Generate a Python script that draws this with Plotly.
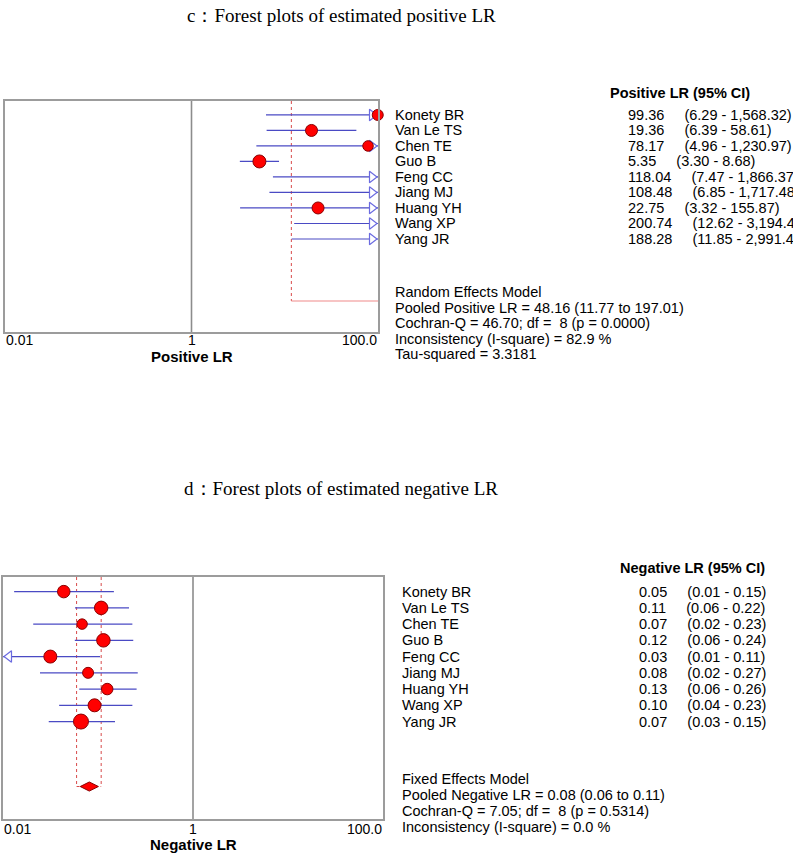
import numpy as np
import plotly.graph_objects as go

# ---------------- data ----------------
studies = ["Konety BR", "Van Le TS", "Chen TE", "Guo B", "Feng CC",
           "Jiang MJ", "Huang YH", "Wang XP", "Yang JR"]

# Positive LR (values as printed)
pos_est = [99.36, 19.36, 78.17, 5.35, 118.04, 108.48, 22.75, 200.74, 188.28]
pos_lo = [6.29, 6.39, 4.96, 3.30, 7.47, 6.85, 3.32, 12.62, 11.85]
pos_hi = [1568.32, 58.61, 1230.97, 8.68, 1866.37, 1717.48, 155.87, 3194.40, 2991.40]
pos_est_txt = ["99.36", "19.36", "78.17", "5.35", "118.04", "108.48", "22.75", "200.74", "188.28"]
pos_ci_txt = ["(6.29 - 1,568.32)", "(6.39 - 58.61)", "(4.96 - 1,230.97)", "(3.30 - 8.68)",
              "(7.47 - 1,866.37)", "(6.85 - 1,717.48)", "(3.32 - 155.87)",
              "(12.62 - 3,194.40)", "(11.85 - 2,991.40)"]
pos_pooled = [48.16, 11.77, 197.01]  # estimate, lower, upper
pos_stats = ["Random Effects Model",
             "Pooled Positive LR = 48.16 (11.77 to 197.01)",
             "Cochran-Q = 46.70; df =  8 (p = 0.0000)",
             "Inconsistency (I-square) = 82.9 %",
             "Tau-squared = 3.3181"]

# Negative LR (positions; printed text below)
neg_est = [0.0436, 0.108, 0.068, 0.114, 0.0315, 0.0786, 0.125, 0.092, 0.0662]
neg_lo = [0.0131, 0.0573, 0.0208, 0.057, 0.008, 0.0245, 0.0635, 0.039, 0.0303]
neg_hi = [0.147, 0.212, 0.23, 0.235, 0.105, 0.262, 0.255, 0.23, 0.151]
neg_est_txt = ["0.05", "0.11", "0.07", "0.12", "0.03", "0.08", "0.13", "0.10", "0.07"]
neg_ci_txt = ["(0.01 - 0.15)", "(0.06 - 0.22)", "(0.02 - 0.23)", "(0.06 - 0.24)",
              "(0.01 - 0.11)", "(0.02 - 0.27)", "(0.06 - 0.26)", "(0.04 - 0.23)",
              "(0.03 - 0.15)"]
neg_pooled = [0.081, 0.0595, 0.108]
neg_stats = ["Fixed Effects Model",
             "Pooled Negative LR = 0.08 (0.06 to 0.11)",
             "Cochran-Q = 7.05; df =  8 (p = 0.5314)",
             "Inconsistency (I-square) = 0.0 %"]

tick_vals = [0.01, 1, 100]
tick_text = ["0.01", "1", "100.0"]

# ---------------- styling / layout helpers ----------------
W, H = 793, 854
SANS = "Liberation Sans, Arial, sans-serif"
SERIF = "Liberation Serif, Times New Roman, serif"
NB = "\u00a0"
XMIN, XMAX = -2, 2           # log10 range
YTOP, YBOT = 0.1, 15.0       # row range (reversed)
rows = list(range(1, len(studies) + 1))
POOL_ROW = 13
FS_NAME = 14.5
FS_VAL = 14.5


def px(x):
    return x / W


def py(y):
    return 1 - y / H


panels = [
    dict(xa="x", ya="y", dom_x=(5, 378), dom_y=(101, 332),
         est=pos_est, lo=pos_lo, hi=pos_hi, est_txt=pos_est_txt, ci_txt=pos_ci_txt,
         pooled=pos_pooled, stats=pos_stats, sizes=[11, 12, 10.5, 13, 0, 0, 12, 0, 0],
         header="Positive LR (95% CI)", axis_title="Positive LR",
         title="c\uff1aForest plots of estimated positive LR", title_y=15,
         name_x=394, val_x=627, head_x=609, head_y=93, stat_y=292, stat_step=15.5,
         tick_shift=1, title_shift=-24, fixed=False),
    dict(xa="x2", ya="y2", dom_x=(3, 383), dom_y=(577, 819),
         est=neg_est, lo=neg_lo, hi=neg_hi, est_txt=neg_est_txt, ci_txt=neg_ci_txt,
         pooled=neg_pooled, stats=neg_stats, sizes=[12.5, 13.5, 10.5, 13.5, 13, 11, 11.5, 13, 15],
         header="Negative LR (95% CI)", axis_title="Negative LR",
         title="d\uff1aForest plots of estimated negative LR", title_y=488,
         name_x=401, val_x=638, head_x=619, head_y=568, stat_y=779, stat_step=16,
         tick_shift=-1, title_shift=-25, fixed=True),
]

fig = go.Figure()
annotations = []
CI_COLOR = "#4a4ac4"
ARROW_COLOR = "#6b6be0"
RED = "#ff0000"
DARKRED = "#8a0000"
POOL_COLOR = "#d84a4a"

for i, p in enumerate(panels):
    xa, ya = p["xa"], p["ya"]
    dwidth = p["dom_x"][1] - p["dom_x"][0]
    px_per_dec = dwidth / (XMAX - XMIN)
    xmin_v, xmax_v = 10 ** XMIN, 10 ** XMAX
    top_px, bot_px = p["dom_y"]

    def row_px(r):
        return top_px + (r - YTOP) / (YBOT - YTOP) * (bot_px - top_px)

    # reference line at 1
    fig.add_trace(go.Scatter(x=[1, 1], y=[YTOP, YBOT], mode="lines",
                             line=dict(color="#8c8c8c", width=1.6),
                             xaxis=xa, yaxis=ya, hoverinfo="skip", showlegend=False))

    # pooled estimate lines
    pe, pl, ph = p["pooled"]
    for v in (pl, ph):
        fig.add_trace(go.Scatter(x=[v, v], y=[YTOP, POOL_ROW], mode="lines",
                                 line=dict(color=POOL_COLOR, width=1, dash="dot"),
                                 xaxis=xa, yaxis=ya, hoverinfo="skip", showlegend=False))
    fig.add_trace(go.Scatter(x=[pl, ph], y=[POOL_ROW, POOL_ROW], mode="lines",
                             line=dict(color=POOL_COLOR if p["fixed"] else "#f08a8a",
                                       width=1.2, dash="dot" if p["fixed"] else "solid"),
                             xaxis=xa, yaxis=ya, hoverinfo="skip", showlegend=False))

    # confidence intervals
    for r, lo, hi in zip(rows, p["lo"], p["hi"]):
        fig.add_trace(go.Scatter(x=[lo, hi], y=[r, r], mode="lines",
                                 line=dict(color=CI_COLOR, width=1.2),
                                 xaxis=xa, yaxis=ya, hoverinfo="skip", showlegend=False))

    # arrows for intervals running off the axis
    tip = 6.0 / px_per_dec
    ar_x, ar_y, ar_sym = [], [], []
    for r, lo, hi in zip(rows, p["lo"], p["hi"]):
        if hi > xmax_v:
            ar_x.append(10 ** (XMAX - tip)); ar_y.append(r); ar_sym.append("triangle-right")
        if lo < xmin_v:
            ar_x.append(10 ** (XMIN + tip)); ar_y.append(r); ar_sym.append("triangle-left")
    if ar_x:
        fig.add_trace(go.Scatter(x=ar_x, y=ar_y, mode="markers",
                                 marker=dict(symbol=ar_sym, size=10, color="white", opacity=1,
                                             line=dict(color=ARROW_COLOR, width=1.2)),
                                 xaxis=xa, yaxis=ya, hoverinfo="skip", showlegend=False))

    # point estimates (only those inside the axis range)
    dx, dy, ds = [], [], []
    for r, e, s in zip(rows, p["est"], p["sizes"]):
        if xmin_v <= e <= xmax_v:
            dx.append(e); dy.append(r); ds.append(s)
    fig.add_trace(go.Scatter(x=dx, y=dy, mode="markers", cliponaxis=False,
                             marker=dict(symbol="circle", size=ds, color=RED, opacity=1,
                                         line=dict(color=DARKRED, width=1)),
                             xaxis=xa, yaxis=ya, hoverinfo="skip", showlegend=False))

    if p["fixed"]:
        fig.add_trace(go.Scatter(x=[pe], y=[POOL_ROW], mode="markers",
                                 marker=dict(symbol="diamond-wide", size=13, color=RED, opacity=1,
                                             line=dict(color=DARKRED, width=1)),
                                 xaxis=xa, yaxis=ya, hoverinfo="skip", showlegend=False))

    # axes
    sfx = "" if i == 0 else str(i + 1)
    fig.update_layout(**{
        "xaxis" + sfx: dict(type="log", range=[XMIN, XMAX],
                            domain=[px(p["dom_x"][0]), px(p["dom_x"][1])],
                            anchor=ya, showgrid=False, zeroline=False,
                            showticklabels=False, ticks="",
                            showline=True, mirror=True, linecolor="#9c9c9c", linewidth=1.6),
        "yaxis" + sfx: dict(range=[YBOT, YTOP],
                            domain=[py(bot_px), py(top_px)],
                            anchor=xa, showgrid=False, zeroline=False,
                            showticklabels=False, ticks="",
                            showline=True, mirror=True, linecolor="#9c9c9c", linewidth=1.6),
    })

    # tick labels
    anchors = ["left", "center", "right"]
    for tv, tt, an in zip(tick_vals, tick_text, anchors):
        annotations.append(dict(xref=xa, yref=ya + " domain", x=np.log10(tv), y=0,
                                xanchor=an, yanchor="top", yshift=p["tick_shift"],
                                text=tt, showarrow=False, borderpad=0,
                                font=dict(family=SANS, size=14, color="black")))
    annotations.append(dict(xref=xa, yref=ya + " domain", x=0, y=0,
                            xanchor="center", yanchor="middle", yshift=p["title_shift"],
                            text="<b>" + p["axis_title"] + "</b>", showarrow=False,
                            borderpad=0, font=dict(family=SANS, size=15, color="black")))

    # panel title
    annotations.append(dict(xref="paper", yref="paper", x=px(341), y=py(p["title_y"]),
                            xanchor="center", yanchor="middle", text=p["title"],
                            showarrow=False, font=dict(family=SERIF, size=19, color="black")))

    # header
    annotations.append(dict(xref="paper", yref="paper", x=px(p["head_x"]), y=py(p["head_y"]),
                            xanchor="left", yanchor="middle",
                            text="<b>" + p["header"] + "</b>", showarrow=False, borderpad=0,
                            font=dict(family=SANS, size=14.5, color="black")))

    # study rows
    for r, name, et, ct in zip(rows, studies, p["est_txt"], p["ci_txt"]):
        yy = py(row_px(r))
        annotations.append(dict(xref="paper", yref="paper", x=px(p["name_x"]), y=yy,
                                xanchor="left", yanchor="middle", text=name, borderpad=0,
                                showarrow=False, font=dict(family=SANS, size=FS_NAME, color="black")))
        annotations.append(dict(xref="paper", yref="paper", x=px(p["val_x"]), y=yy,
                                xanchor="left", yanchor="middle", borderpad=0,
                                text=et + NB * 5 + ct,
                                showarrow=False, font=dict(family=SANS, size=FS_VAL, color="black")))

    # summary statistics
    for k, line in enumerate(p["stats"]):
        annotations.append(dict(xref="paper", yref="paper", x=px(p["name_x"]),
                                y=py(p["stat_y"] + k * p["stat_step"]),
                                xanchor="left", yanchor="middle", borderpad=0,
                                text=line.replace("  ", NB + NB), showarrow=False,
                                font=dict(family=SANS, size=FS_NAME, color="black")))

fig.update_layout(width=W, height=H, margin=dict(l=0, r=0, t=0, b=0),
                  paper_bgcolor="white", plot_bgcolor="white",
                  annotations=annotations, showlegend=False)

fig.write_html("out.html", config={"displayModeBar": False},
               post_script="document.body.style.margin='0px';"
                           "document.body.style.overflow='hidden';")
